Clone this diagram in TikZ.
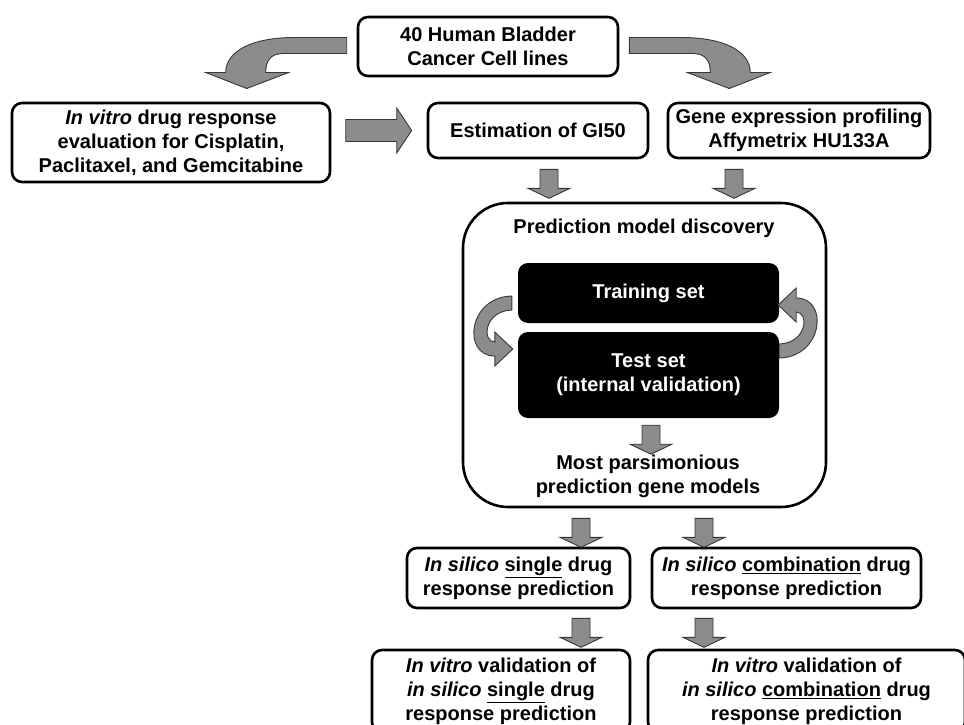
\documentclass[tikz,border=0pt]{standalone}
\usepackage{fontspec}
\setmainfont{Liberation Sans}
\usetikzlibrary{calc}
\definecolor{arrowgray}{RGB}{140,140,140}
\definecolor{arrowedge}{RGB}{55,55,55}

% block arrow pointing down, #1 = top middle of the shaft
\newcommand{\dnarrow}[1]{%
  \draw[blockarrow] #1 ++(-9,0) -- ++(18,0) -- ++(0,19) -- ++(12,0)
    -- ++(-21,10) -- ++(-21,-10) -- ++(12,0) -- cycle;}
% curved arrow at the top, origin at the left side of the top box
\newcommand{\bendarrow}{%
  \draw[blockarrow] (-10,-9) -- (-63,-9) .. controls (-103,-9) and (-131,4) .. (-131,26)
    -- (-151,26) -- (-110,42) -- (-68,26) -- (-91,26)
    .. controls (-91,14) and (-86,7) .. (-73,7) -- (-10,7) -- cycle;}
% small turning arrow beside the training/test boxes
\newcommand{\turnarrow}{%
  \draw[blockarrow] (0,-7) .. controls (-44,-6) and (-50,53) .. (-17,53)
    -- (-17,63) -- (1,46) -- (-17,29) -- (-17,39)
    .. controls (-30,39) and (-28,8) .. (0,7) -- cycle;}

\begin{document}
\begin{tikzpicture}[x=1pt,y=-1pt,
  txt/.style={align=center,inner sep=0pt,font=\bfseries\fontsize{20}{24}\selectfont},
  box/.style={txt,draw,line width=2.6pt,rounded corners=10pt},
  darkbox/.style={txt,fill=black,text=white,rounded corners=10pt},
  blockarrow/.style={fill=arrowgray,draw=arrowedge,line width=0.9pt,line join=miter}]
  \useasboundingbox (0,0) rectangle (964,725);
  \clip (0,0) rectangle (964,725);

  % first row
  \node[box,minimum width=260,minimum height=59] (cells) at (488,46.5)
    {40 Human Bladder\\Cancer Cell lines};
  \node[box,minimum width=318,minimum height=79] (vitro) at (171,142.5)
    {\textit{In vitro} drug response\\evaluation for Cisplatin,\\Paclitaxel, and Gemcitabine};
  \node[box,minimum width=220,minimum height=55] (est) at (538,130.5)
    {Estimation of GI50};
  \node[box,minimum width=262,minimum height=55] (gene) at (799,130.5)
    {Gene expression profiling\\Affymetrix HU133A};

  \begin{scope}[shift={(cells.west)}]
    \bendarrow
  \end{scope}
  \begin{scope}[shift={(cells.east)},xscale=-1]
    \bendarrow
  \end{scope}
  \draw[blockarrow] ($(est.west)+(-81,-11)$) -- ++(51,0) -- ++(0,-11.5)
    -- ++(15,22.5) -- ++(-15,22.5) -- ++(0,-11.5) -- ++(-51,0) -- cycle;

  % model discovery
  \node[draw,line width=2.6pt,rounded corners=45pt,minimum width=363,minimum height=304]
    (disc) at (644.5,355) {};
  \node[txt] (title) at (644,228) {Prediction model discovery};
  \node[darkbox,minimum width=261,minimum height=60] (train) at (648.5,293)
    {Training set};
  \node[darkbox,minimum width=261,minimum height=86] (test) at (648.5,375)
    {Test set\\(internal validation)};
  \node[txt] (pars) at (648,476.5) {Most parsimonious\\prediction gene models};

  \begin{scope}[shift={($(train.west)+(-6,10)$)}]
    \turnarrow
  \end{scope}
  \begin{scope}[shift={($(test.east)+(0,-24)$)},rotate=180]
    \turnarrow
  \end{scope}

  % predictions and validations
  \node[box,minimum width=223,minimum height=60] (single) at (518.5,578)
    {\textit{In silico} \underline{single} drug\\response prediction};
  \node[box,minimum width=269,minimum height=60] (combo) at (786.5,578)
    {\textit{In silico} \underline{combination} drug\\response prediction};
  \node[box,minimum width=258,minimum height=82] (valsingle) at (501,691)
    {\textit{In vitro} validation of\\\textit{in silico} \underline{single} drug\\response prediction};
  \node[box,minimum width=317,minimum height=82] (valcombo) at (806.5,691)
    {\textit{In vitro} validation of\\\textit{in silico} \underline{combination} drug\\response prediction};

  \dnarrow{($(est.south)+(11,10)$)}
  \dnarrow{($(gene.south)+(-65,10)$)}
  \dnarrow{($(test.south)+(2.5,7)$)}
  \dnarrow{($(disc.south)+(-63.5,10)$)}
  \dnarrow{($(disc.south)+(59.5,10)$)}
  \dnarrow{($(single.south)+(62.5,9)$)}
  \dnarrow{($(combo.south)+(-82.5,9)$)}
\end{tikzpicture}
\end{document}
